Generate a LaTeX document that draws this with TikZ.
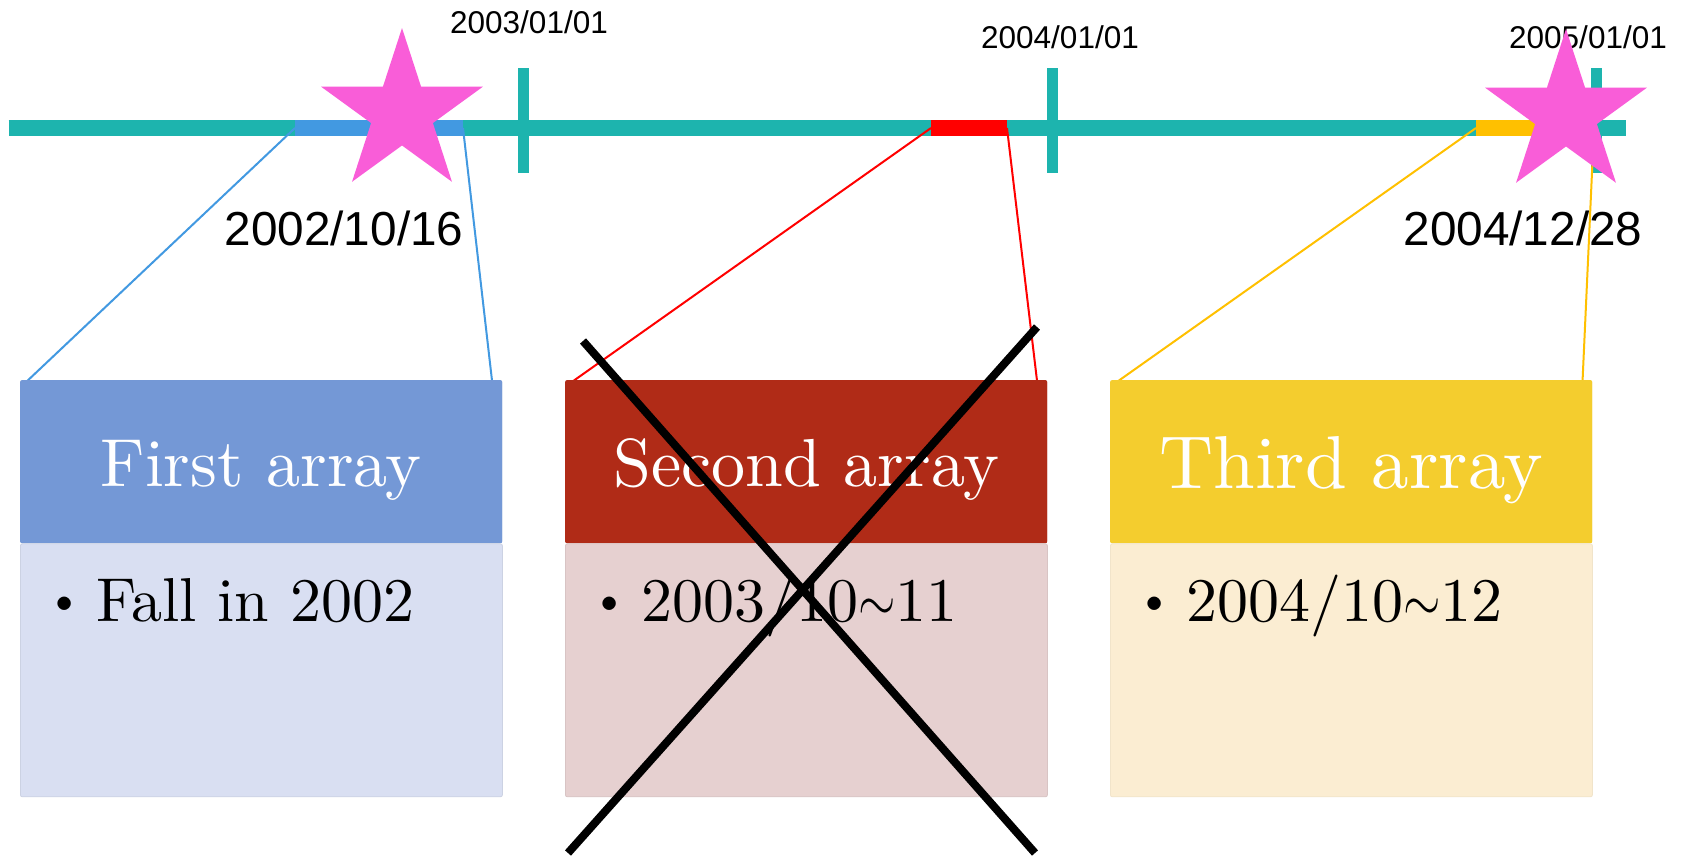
\documentclass[tikz,border=0pt]{standalone}
\usepackage{fontspec}
\newfontfamily\arial{Liberation Sans}
\newfontfamily\cmten{lmroman10-regular.otf}
\newfontfamily\lmmath{latinmodern-math.otf}
\usetikzlibrary{shapes.geometric,calc}
\definecolor{tealline}{RGB}{29,180,174}
\definecolor{blueseg}{RGB}{66,153,225}
\definecolor{redseg}{RGB}{255,0,0}
\definecolor{orangeseg}{RGB}{255,192,0}
\definecolor{starpink}{RGB}{249,93,216}
\definecolor{hdrA}{RGB}{116,152,214}
\definecolor{bdyA}{RGB}{217,223,242}
\definecolor{hdrB}{RGB}{176,43,23}
\definecolor{bdyB}{RGB}{230,208,208}
\definecolor{hdrC}{RGB}{244,205,46}
\definecolor{bdyC}{RGB}{251,237,210}
\tikzset{
  tickmark/.style={draw=tealline, line width=11pt},
  seg/.style={line width=16pt},
  datelbl/.style={font=\arial\fontsize{47.7}{50}\selectfont, inner sep=0, anchor=base},
  ticklbl/.style={font=\arial\fontsize{31.5}{34}\selectfont, inner sep=0, anchor=base},
  starnode/.style={star, star points=5, star point ratio=2.618, minimum size=170pt, inner sep=0, fill=starpink, draw=none},
  hdr/.style={rectangle, rounded corners=2pt, minimum width=482pt, minimum height=163pt, inner sep=0, text=white, anchor=north west, text height=64pt, text depth=15pt},
  bdy/.style={rectangle, rounded corners=2pt, minimum width=482pt, minimum height=253pt, inner sep=0, anchor=north west},
  bodytxt/.style={font=\cmten\fontsize{62}{66}\selectfont, inner sep=0, anchor=base west},
  conn/.style={line width=2pt},
  xline/.style={draw=black, line width=8pt}
}
\newcommand{\bul}{\makebox[30pt][c]{\raisebox{7pt}{\scalebox{0.75}{\textbullet}}}\hspace{17pt}}
\newcommand{\tld}{\scalebox{0.78}[1]{\lmmath\symbol{"223C}}}
\begin{document}
\begin{tikzpicture}[x=1pt,y=-1pt]
\useasboundingbox[fill=white] (0,0) rectangle (1681,857);
% timeline
\coordinate (tlA) at (8.7,128);
\coordinate (tlB) at (1626,128);
\draw[seg, draw=tealline] (tlA) -- (tlB);
% segments
\coordinate (bsL) at (295,128); \coordinate (bsR) at (463,128);
\coordinate (rsL) at (931,128); \coordinate (rsR) at (1007,128);
\coordinate (osL) at (1476,128); \coordinate (osR) at (1594,128);
\draw[seg, draw=blueseg] (bsL) -- (bsR);
\draw[seg, draw=redseg] (rsL) -- (rsR);
\draw[seg, draw=orangeseg] (osL) -- (osR);
% ticks
\coordinate (tk1a) at (523,68); \coordinate (tk1b) at (523,173);
\coordinate (tk2a) at (1052,68); \coordinate (tk2b) at (1052,173);
\coordinate (tk3a) at (1596,68); \coordinate (tk3b) at (1596,173);
\draw[tickmark] (tk1a) -- (tk1b);
\draw[tickmark] (tk2a) -- (tk2b);
\draw[tickmark] (tk3a) -- (tk3b);
% tick labels
\node[ticklbl] (l2003) at (529,33) {2003/01/01};
\node[ticklbl] (l2004) at (1060,48) {2004/01/01};
\node[ticklbl] (l2005) at (1588,48) {2005/01/01};
% date labels
\node[datelbl] (d1) at (344,245) {2002/10/16};
\node[datelbl] (d2) at (1523,245) {2004/12/28};
% header anchors (named)
\node[hdr, fill=hdrA] (h1) at (20,380) {\cmten\fontsize{68}{70}\selectfont First array};
\node[hdr, fill=hdrB] (h2) at (565,380) {\cmten\fontsize{68}{70}\selectfont Second array};
\node[hdr, fill=hdrC, text height=68pt, text depth=15pt] (h3) at (1110,380) {\cmten\fontsize{75}{78}\selectfont Third array};
% connectors
\draw[conn, draw=blueseg] (bsL) -- ([shift={(4,4)}]h1.north west);
\draw[conn, draw=blueseg] (bsR) -- ([shift={(-10,4)}]h1.north east);
\draw[conn, draw=redseg] (rsL) -- ([shift={(4,4)}]h2.north west);
\draw[conn, draw=redseg] (rsR) -- ([shift={(-10,4)}]h2.north east);
\draw[conn, draw=orangeseg] (osL) -- ([shift={(4,4)}]h3.north west);
\draw[conn, draw=orangeseg] (osR) -- ([shift={(-10,4)}]h3.north east);
% headers again, over the connector ends
\node[hdr, fill=hdrA] at (20,380) {\cmten\fontsize{68}{70}\selectfont First array};
\node[hdr, fill=hdrB] at (565,380) {\cmten\fontsize{68}{70}\selectfont Second array};
\node[hdr, fill=hdrC, text height=68pt, text depth=15pt] at (1110,380) {\cmten\fontsize{75}{78}\selectfont Third array};
\node[bdy, fill=bdyA, draw=bdyA!94!black, line width=0.8pt] (b1) at (h1.south west) {};
\node[bdy, fill=bdyB, draw=bdyB!94!black, line width=0.8pt] (b2) at (h2.south west) {};
\node[bdy, fill=bdyC, draw=bdyC!96!black, line width=0.8pt] (b3) at (h3.south west) {};
\node[bodytxt] (t1) at ($(b1.north west)+(29,78)$) {\bul Fall in 2002};
\node[bodytxt] (t2) at ($(b2.north west)+(29,78)$) {\bul 2003/10\tld 11};
\node[bodytxt] (t3) at ($(b3.north west)+(29,78)$) {\bul 2004/10\tld 12};
% stars
\node[starnode] (s1) at (402,113) {};
\node[starnode] (s2) at (1566,114) {};
% cross
\coordinate (xa) at (583,341); \coordinate (xb) at (1035,853);
\coordinate (xc) at (1037,327); \coordinate (xd) at (568,853);
\draw[xline] (xa) -- (xb);
\draw[xline] (xc) -- (xd);
\end{tikzpicture}
\end{document}
